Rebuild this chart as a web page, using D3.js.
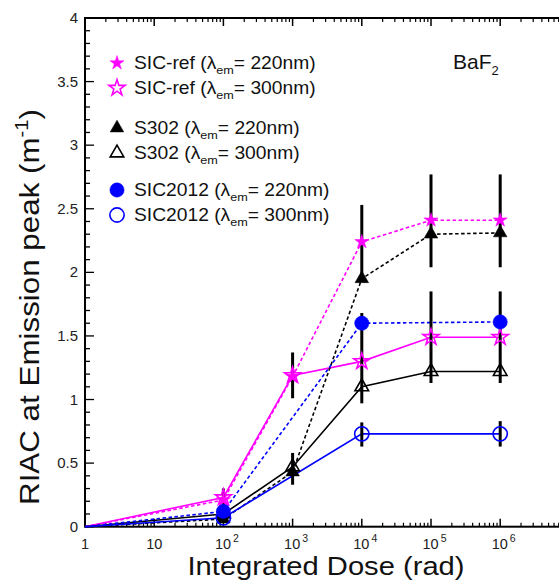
<!DOCTYPE html>
<html><head><meta charset="utf-8">
<script src="https://cdn.jsdelivr.net/npm/d3@7/dist/d3.min.js"></script>
<style>
html,body{margin:0;padding:0;background:#fff;}
svg{display:block;font-family:"Liberation Sans",Arial,sans-serif;}
</style></head>
<body><svg id="c" width="559" height="580"></svg>
<script>
// ---- data ----
const doses = [1, 100, 1000, 1e4, 1e5, 1e6];
const sicRef220 = [0, 0.21, 1.18, 2.24, 2.41, 2.41];
const sicRef300 = [0, 0.23, 1.19, 1.30, 1.49, 1.49];
const s302_220 = [0, 0.06, 0.43, 1.95, 2.30, 2.31];
const s302_300 = [0, 0.10, 0.47, 1.10, 1.22, 1.22];
const sic2012Doses = [1, 100, 1e4, 1e6];
const sic2012_220 = [0, 0.12, 1.60, 1.61];
const sic2012_300 = [0, 0.07, 0.73, 0.73];
const errX  = [100, 1000, 1000, 1e4, 1e4, 1e4, 1e5, 1e5, 1e6, 1e6, 1e6];
const errLo = [0.14, 1.01, 0.33, 1.95, 0.97, 0.63, 2.04, 1.13, 2.04, 1.13, 0.63];
const errHi = [0.30, 1.37, 0.58, 2.53, 1.68, 0.82, 2.77, 1.85, 2.77, 1.85, 0.83];
const yTicks = [0, 0.5, 1, 1.5, 2, 2.5, 3, 3.5, 4];
const yTickLabels = ["0", "0.5", "1", "1.5", "2", "2.5", "3", "3.5", "4"];
const xTicks = [1, 10, 100, 1000, 1e4, 1e5, 1e6];
const xTickBase = ["1", "10", "10", "10", "10", "10", "10"];
const xTickExp = ["", "", "2", "3", "4", "5", "6"];

const series = [
  {name:"SIC-ref", wl:"220nm", x:doses, y:sicRef220, color:"#ff00ff", dash:"3.5,2.5", sym:d3.symbolStar, filled:true},
  {name:"SIC-ref", wl:"300nm", x:doses, y:sicRef300, color:"#ff00ff", dash:null, sym:d3.symbolStar, filled:false},
  {name:"S302", wl:"220nm", x:doses, y:s302_220, color:"#000000", dash:"3.5,2.5", sym:d3.symbolTriangle, filled:true},
  {name:"S302", wl:"300nm", x:doses, y:s302_300, color:"#000000", dash:null, sym:d3.symbolTriangle, filled:false},
  {name:"SIC2012", wl:"220nm", x:sic2012Doses, y:sic2012_220, color:"#0000ff", dash:"3.5,2.5", sym:d3.symbolCircle, filled:true},
  {name:"SIC2012", wl:"300nm", x:sic2012Doses, y:sic2012_300, color:"#0000ff", dash:null, sym:d3.symbolCircle, filled:false}
];

const svg = d3.select("#c");
const L = 85, T = 18, B = 526.7, R = 569.4;
const x = d3.scaleLog().domain([1, 1e7]).range([L, R]);
const y = d3.scaleLinear().domain([0, 4]).range([B, T]);

// frame
const g = svg.append("g");
g.append("rect").attr("x",L).attr("y",T).attr("width",R-L).attr("height",B-T).attr("fill","none").attr("stroke","#000").attr("stroke-width",2);

// x ticks (log minor)
const xMinor = [];
for (let e = 0; e < 7; e++) for (let m = 2; m <= 9; m++) xMinor.push(m * Math.pow(10, e));
xMinor.forEach(v => {
  g.append("line").attr("x1",x(v)).attr("x2",x(v)).attr("y1",B).attr("y2",B-4).attr("stroke","#000").attr("stroke-width",1.2);
  g.append("line").attr("x1",x(v)).attr("x2",x(v)).attr("y1",T).attr("y2",T+4).attr("stroke","#000").attr("stroke-width",1.2);
});
xTicks.forEach((v,i) => {
  g.append("line").attr("x1",x(v)).attr("x2",x(v)).attr("y1",B).attr("y2",B-8).attr("stroke","#000").attr("stroke-width",1.5);
  g.append("line").attr("x1",x(v)).attr("x2",x(v)).attr("y1",T).attr("y2",T+8).attr("stroke","#000").attr("stroke-width",1.5);
  const t = g.append("text").attr("x",x(v)).attr("y",549).attr("font-size",14.5).attr("fill","#222").attr("text-anchor","middle");
  t.append("tspan").text(xTickBase[i]);
  if (xTickExp[i]) {
    t.attr("text-anchor","start").attr("x", x(v) - 8.5);
    t.append("tspan").attr("dx",2).attr("dy",-7).attr("font-size",10.5).text(xTickExp[i]);
  }
});
// y ticks
for (let k = 0; k <= 40; k++) {
  const v = k / 10;
  const major = k % 5 === 0;
  g.append("line").attr("x1",L).attr("x2",L+(major?9:5)).attr("y1",y(v)).attr("y2",y(v)).attr("stroke","#000").attr("stroke-width",1.3);
}
yTicks.forEach((v,i) => {
  g.append("text").attr("x",78).attr("y",y(v)+5).attr("text-anchor","end").attr("font-size",15).attr("fill","#222").text(yTickLabels[i]);
});

// axis titles
svg.append("text").attr("x",326).attr("y",574.5).attr("text-anchor","middle").attr("font-size",25)
  .attr("textLength",277).attr("lengthAdjust","spacingAndGlyphs").attr("fill","#111").text("Integrated Dose (rad)");
const yt = svg.append("g").attr("transform","translate(39,307) rotate(-90) scale(1.12,1)")
  .append("text").attr("text-anchor","middle").attr("font-size",28).attr("fill","#111");
yt.append("tspan").text("RIAC at Emission peak (m");
yt.append("tspan").attr("dy",-11).attr("font-size",18).text("-1");
yt.append("tspan").attr("dy",11).text(")");

// lines
const line = d3.line().x(d => x(d[0])).y(d => y(d[1]));
series.forEach(s => {
  svg.append("path").attr("d", line(s.x.map((v,i)=>[v, s.y[i]]))).attr("fill","none")
    .attr("stroke", s.color).attr("stroke-width",1.6).attr("stroke-dasharray", s.dash);
});

// error bars
errX.forEach((v,i) => {
  svg.append("line").attr("x1",x(v)).attr("x2",x(v)).attr("y1",y(errLo[i])).attr("y2",y(errHi[i]))
    .attr("stroke","#000").attr("stroke-width",3);
});

function symSize(s){ return s.sym === d3.symbolStar ? (s.filled ? 62 : 80) : s.sym === d3.symbolTriangle ? 80 : 160; }
function drawMarker(sel, s, cx, cy){
  sel.append("path").attr("d", d3.symbol().type(s.sym).size(symSize(s))())
    .attr("transform", `translate(${cx},${cy})`)
    .attr("fill", s.filled ? s.color : "none")
    .attr("stroke", s.color).attr("stroke-width", s.filled ? 0.5 : 1.6);
}
// markers
series.forEach(s => {
  s.x.forEach((v,i) => { if (v > 1) drawMarker(svg, s, x(v), y(s.y[i])); });
});

// legend
const legY = [63, 88, 128, 153, 190, 215];
series.forEach((s,i) => {
  drawMarker(svg, s, 117, legY[i]);
  const t = svg.append("g").attr("transform",`translate(134,${legY[i]+6}) scale(1.1,1)`)
    .append("text").attr("font-size",17.5).attr("fill","#111");
  t.append("tspan").text(s.name + " (λ");
  t.append("tspan").attr("dy",5).attr("font-size",11.5).text("em");
  t.append("tspan").attr("dy",-5).text("= " + s.wl + ")");
});

// material label
const bl = svg.append("text").attr("x",453).attr("y",69).attr("font-size",21).attr("fill","#111");
bl.append("tspan").text("BaF");
bl.append("tspan").attr("dy",6).attr("font-size",13).text("2");
</script></body></html>
